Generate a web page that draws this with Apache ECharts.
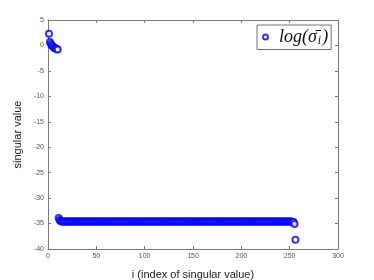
<!DOCTYPE html>
<html>
<head>
<meta charset="utf-8">
<script src="https://cdn.jsdelivr.net/npm/echarts@6/dist/echarts.min.js"></script>
<style>
	html, body {margin: 0; padding: 0; background: #fff;}
	#main {width: 374px; height: 280px;}
</style>
</head>
<body>
<div id="main"></div>
<script>
// log of singular values, index i = 1..256
const singularValues = [
	2.3, 0.7, 0.3, 0.0, -0.2, -0.4, -0.5, -0.6, -0.7, -0.8,
	-33.9, -34.3, -34.5, -34.6, -34.6, -34.6, -34.6, -34.6, -34.6, -34.6,
	-34.6, -34.6, -34.6, -34.6, -34.6, -34.6, -34.6, -34.6, -34.6, -34.6,
	-34.6, -34.6, -34.6, -34.6, -34.6, -34.6, -34.6, -34.6, -34.6, -34.6,
	-34.6, -34.6, -34.6, -34.6, -34.6, -34.6, -34.6, -34.6, -34.6, -34.6,
	-34.6, -34.6, -34.6, -34.6, -34.6, -34.6, -34.6, -34.6, -34.6, -34.6,
	-34.6, -34.6, -34.6, -34.6, -34.6, -34.6, -34.6, -34.6, -34.6, -34.6,
	-34.6, -34.6, -34.6, -34.6, -34.6, -34.6, -34.6, -34.6, -34.6, -34.6,
	-34.6, -34.6, -34.6, -34.6, -34.6, -34.6, -34.6, -34.6, -34.6, -34.6,
	-34.6, -34.6, -34.6, -34.6, -34.6, -34.6, -34.6, -34.6, -34.6, -34.6,
	-34.6, -34.6, -34.6, -34.6, -34.6, -34.6, -34.6, -34.6, -34.6, -34.6,
	-34.6, -34.6, -34.6, -34.6, -34.6, -34.6, -34.6, -34.6, -34.6, -34.6,
	-34.6, -34.6, -34.6, -34.6, -34.6, -34.6, -34.6, -34.6, -34.6, -34.6,
	-34.6, -34.6, -34.6, -34.6, -34.6, -34.6, -34.6, -34.6, -34.6, -34.6,
	-34.6, -34.6, -34.6, -34.6, -34.6, -34.6, -34.6, -34.6, -34.6, -34.6,
	-34.6, -34.6, -34.6, -34.6, -34.6, -34.6, -34.6, -34.6, -34.6, -34.6,
	-34.6, -34.6, -34.6, -34.6, -34.6, -34.6, -34.6, -34.6, -34.6, -34.6,
	-34.6, -34.6, -34.6, -34.6, -34.6, -34.6, -34.6, -34.6, -34.6, -34.6,
	-34.6, -34.6, -34.6, -34.6, -34.6, -34.6, -34.6, -34.6, -34.6, -34.6,
	-34.6, -34.6, -34.6, -34.6, -34.6, -34.6, -34.6, -34.6, -34.6, -34.6,
	-34.6, -34.6, -34.6, -34.6, -34.6, -34.6, -34.6, -34.6, -34.6, -34.6,
	-34.6, -34.6, -34.6, -34.6, -34.6, -34.6, -34.6, -34.6, -34.6, -34.6,
	-34.6, -34.6, -34.6, -34.6, -34.6, -34.6, -34.6, -34.6, -34.6, -34.6,
	-34.6, -34.6, -34.6, -34.6, -34.6, -34.6, -34.6, -34.6, -34.6, -34.6,
	-34.6, -34.6, -34.6, -34.6, -34.6, -34.6, -34.6, -34.6, -34.6, -34.6,
	-34.6, -34.6, -34.7, -34.7, -35.1, -38.2
];
const xTicks = [0, 300, 50];   // min, max, step
const yTicks = [-40, 5, 5];

const axisColor = '#7a7a7a';
const labelColor = '#555';

let chart = echarts.init(document.getElementById('main'));

let points = [];
singularValues.map((v, idx) => {
	points.push([idx + 1, v]);
});

// top / right copies of the axes to close the box
const boxAxis = (type, pos) => ({
	type: 'value',
	position: pos,
	min: type === 'x' ? xTicks[0] : yTicks[0],
	max: type === 'x' ? xTicks[1] : yTicks[1],
	interval: type === 'x' ? xTicks[2] : yTicks[2],
	axisLine: {show: true, onZero: false, lineStyle: {color: axisColor, width: 1}},
	axisTick: {show: true, inside: true, length: 3, lineStyle: {color: axisColor}},
	axisLabel: {show: false},
	splitLine: {show: false}
});

let option = {
	animation: false,
	grid: {left: 48, right: 36, top: 20, bottom: 31, outerBoundsMode: 'none'},
	legend: {
		left: 257,
		top: 25,
		padding: [3, 3, 3, 5],
		itemWidth: 5,
		itemHeight: 5,
		itemGap: 0,
		backgroundColor: '#fff',
		borderColor: '#333',
		borderWidth: 0.7,
		data: [{name: 'sigma', icon: 'emptyCircle'}],
		itemStyle: {borderWidth: 1.6},
		formatter: () => '{t|log(σ̄}{s|i}{t|)}',
		textStyle: {
			padding: [0, 0, 0, 6],
			rich: {
				t: {fontFamily: 'Liberation Serif', fontStyle: 'italic', fontSize: 18, color: '#111'},
				s: {fontFamily: 'Liberation Serif', fontStyle: 'italic', fontSize: 12, color: '#111', padding: [7, 1, 0, 1]}
			}
		}
	},
	xAxis: [
		{
			type: 'value',
			min: xTicks[0],
			max: xTicks[1],
			interval: xTicks[2],
			name: 'i (index of singular value)',
			nameLocation: 'middle',
			nameGap: 20,
			nameTextStyle: {fontFamily: 'Liberation Sans', fontSize: 11, color: '#222'},
			axisLine: {show: true, onZero: false, lineStyle: {color: axisColor, width: 1}},
			axisTick: {show: true, inside: true, length: 3, lineStyle: {color: axisColor}},
			axisLabel: {fontFamily: 'Liberation Sans', fontSize: 7, color: labelColor, margin: 4},
			splitLine: {show: false}
		},
		boxAxis('x', 'top')
	],
	yAxis: [
		{
			type: 'value',
			min: yTicks[0],
			max: yTicks[1],
			interval: yTicks[2],
			name: 'singular value',
			nameLocation: 'middle',
			nameGap: 20,
			nameTextStyle: {fontFamily: 'Liberation Sans', fontSize: 11, color: '#222'},
			axisLine: {show: true, onZero: false, lineStyle: {color: axisColor, width: 1}},
			axisTick: {show: true, inside: true, length: 3, lineStyle: {color: axisColor}},
			axisLabel: {fontFamily: 'Liberation Sans', fontSize: 7, color: labelColor, margin: 4},
			splitLine: {show: false}
		},
		boxAxis('y', 'right')
	],
	series: [
		{
			name: 'sigma',
			type: 'scatter',
			data: points,
			symbol: 'emptyCircle',
			symbolSize: 6,
			itemStyle: {color: '#0000ff', borderColor: '#0000ff', borderWidth: 1.3}
		}
	]
};
chart.setOption(option);
</script>
</body>
</html>
